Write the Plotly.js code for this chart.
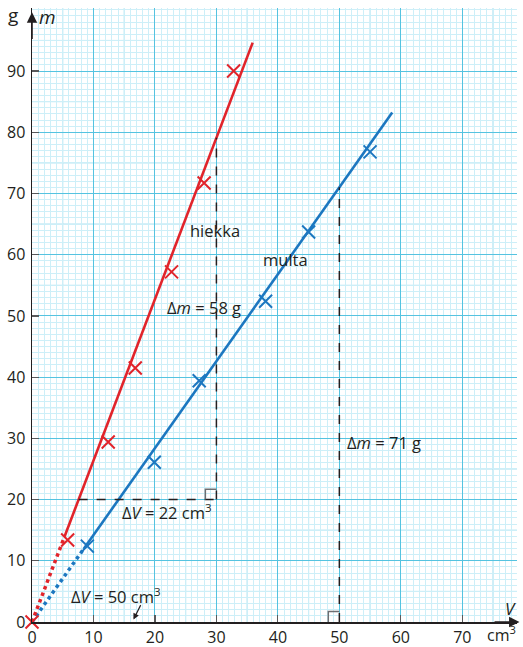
<!DOCTYPE html>
<html>
<head>
<meta charset="utf-8">
<script src="https://cdn.plot.ly/plotly-3.0.1.min.js"></script>
<style>html,body{margin:0;padding:0;background:#fff;}#chart{width:523px;height:647px;}</style>
</head>
<body>
<div id="chart"></div>
<script>
// Data
const hiekkaV = [0, 5.8, 12.4, 16.8, 22.7, 28.0, 32.8];
const hiekkaM = [0, 13.4, 29.4, 41.5, 57.2, 71.7, 90.0];
const multaV = [9.0, 19.9, 27.2, 38.0, 45.0, 55.0];
const multaM = [12.4, 26.1, 39.4, 52.4, 63.7, 76.8];
// Fit slopes from the triangle readings
const hiekkaDm = 58, hiekkaDv = 22;
const multaDm = 71, multaDv = 50;
// fitted line extents (V): [dotted start, solid start, end]
const hiekkaLineV = [0, 5.3, 35.9];
const multaLineV = [0, 8.4, 58.6];
const xTickVals = [0, 10, 20, 30, 40, 50, 60, 70];
const yTickVals = [0, 10, 20, 30, 40, 50, 60, 70, 80, 90];

const RED = '#e1242b', BLUE = '#1c77c0', INK = '#231f20';
const kH = hiekkaDm / hiekkaDv, kM = multaDm / multaDv;
const fH = v => kH * v, fM = v => kM * v;

const traces = [
  {x: [multaLineV[0], multaLineV[1]], y: [fM(multaLineV[0]), fM(multaLineV[1])], mode: 'lines',
   line: {color: BLUE, width: 3.5, dash: 'dot'}, cliponaxis: false, hoverinfo: 'skip'},
  {x: [multaLineV[1], multaLineV[2]], y: [fM(multaLineV[1]), fM(multaLineV[2])], mode: 'lines',
   line: {color: BLUE, width: 2.6}, hoverinfo: 'skip'},
  {x: multaV, y: multaM, mode: 'markers',
   marker: {symbol: 'x-thin', size: 13, line: {width: 2, color: BLUE}}},
  {x: [hiekkaLineV[0], hiekkaLineV[1]], y: [fH(hiekkaLineV[0]), fH(hiekkaLineV[1])], mode: 'lines',
   line: {color: RED, width: 3.5, dash: 'dot'}, cliponaxis: false, hoverinfo: 'skip'},
  {x: [hiekkaLineV[1], hiekkaLineV[2]], y: [fH(hiekkaLineV[1]), fH(hiekkaLineV[2])], mode: 'lines',
   line: {color: RED, width: 2.6}, hoverinfo: 'skip'},
  {x: hiekkaV, y: hiekkaM, mode: 'markers', cliponaxis: false,
   marker: {symbol: 'x-thin', size: 13, line: {width: 2, color: RED}}}
];

const shapes = [];
// 5-unit grid lines (mid level)
for (let v = 5; v < 80; v += 10) {
  shapes.push({type: 'line', xref: 'x', yref: 'paper', x0: v, x1: v, y0: 0, y1: 1,
    line: {color: '#9edcee', width: 1}, layer: 'between'});
}
for (let m = 5; m < 101; m += 10) {
  shapes.push({type: 'line', xref: 'paper', yref: 'y', x0: 0, x1: 1, y0: m, y1: m,
    line: {color: '#9edcee', width: 1}, layer: 'between'});
}
// Triangle guide for hiekka
const hY0 = 20, hX1 = 30;
shapes.push({type: 'line', x0: hY0 / kH, x1: hX1, y0: hY0, y1: hY0,
  line: {color: INK, width: 1.5, dash: 'dash'}});
shapes.push({type: 'line', x0: hX1, x1: hX1, y0: hY0, y1: fH(hX1),
  line: {color: INK, width: 1.5, dash: 'dash'}});
shapes.push({type: 'path', path: `M ${hX1 - 1.8} ${hY0} L ${hX1 - 1.8} ${hY0 + 1.7} L ${hX1} ${hY0 + 1.7}`,
  line: {color: '#6d6e71', width: 1.5}});
// Guide for multa
const mX1 = 50;
shapes.push({type: 'line', x0: mX1, x1: mX1, y0: 0, y1: fM(mX1),
  line: {color: INK, width: 1.5, dash: 'dash'}});
shapes.push({type: 'path', path: `M ${mX1 - 1.8} 0 L ${mX1 - 1.8} 1.7 L ${mX1} 1.7`,
  line: {color: '#6d6e71', width: 1.5}});

const FAM = 'Open Sans, Noto Sans, sans-serif';
const tf = {family: FAM, size: 16.5, color: INK};
const C = {xanchor: 'center', yanchor: 'middle', showarrow: false};
const annotations = [
  Object.assign({x: 29.8, y: 64.0, text: 'hiekka', font: tf}, C),
  Object.assign({x: 41.3, y: 59.2, text: 'multa', font: tf}, C),
  Object.assign({x: 27.9, y: 51.3, text: 'Δ<i>m</i> = 58 g', font: tf}, C),
  Object.assign({x: 21.9, y: 18.0, text: 'Δ<i>V</i> = 22 cm<sup>3</sup>', font: tf}, C),
  Object.assign({x: 57.3, y: 29.4, text: 'Δ<i>m</i> = 71 g', font: tf}, C),
  Object.assign({x: 13.6, y: 4.3, text: 'Δ<i>V</i> = 50 cm<sup>3</sup>', font: tf}, C),
  {x: 16.5, y: 0.4, ax: 17.8, ay: 3.0, axref: 'x', ayref: 'y', text: '', showarrow: true,
   arrowhead: 2, arrowsize: 1, arrowwidth: 1.2, arrowcolor: INK},
  // axis arrows
  {x: 0, y: 99.6, ax: 0, ay: 95, axref: 'x', ayref: 'y', text: '', showarrow: true,
   arrowhead: 2, arrowsize: 1.3, arrowwidth: 1.6, arrowcolor: INK},
  {x: 79.3, y: 0, ax: 75, ay: 0, axref: 'x', ayref: 'y', text: '', showarrow: true,
   arrowhead: 2, arrowsize: 1.3, arrowwidth: 1.6, arrowcolor: INK},
  // axis labels
  Object.assign({xref: 'paper', yref: 'paper', x: -0.040, y: 0.989, text: 'g',
   font: {family: FAM, size: 19, color: INK}}, C),
  Object.assign({xref: 'paper', yref: 'paper', x: 0.032, y: 0.986, text: '<i>m</i>',
   font: {family: FAM, size: 19, color: INK}}, C),
  Object.assign({xref: 'paper', yref: 'paper', x: 0.986, y: 0.022, text: '<i>V</i>',
   font: {family: FAM, size: 17, color: INK}}, C),
  Object.assign({xref: 'paper', yref: 'paper', x: 0.968, y: -0.019, text: 'cm<sup>3</sup>',
   font: {family: FAM, size: 16, color: INK}}, C)
];

const axisCommon = {
  showline: true, linecolor: INK, linewidth: 1.5,
  ticks: 'inside', ticklen: 7, tickwidth: 1.2, tickcolor: '#58595b',
  showgrid: true, gridcolor: '#55c3e0', gridwidth: 1,
  zeroline: false,
  tickfont: {family: FAM, size: 16, color: INK},
  fixedrange: true
};

const layout = {
  width: 523, height: 647,
  margin: {l: 31.5, r: 6, t: 8, b: 25},
  paper_bgcolor: '#ffffff', plot_bgcolor: '#ffffff',
  showlegend: false,
  xaxis: Object.assign({}, axisCommon, {range: [0, 78.9], tickvals: xTickVals, ticktext: xTickVals.map(String), ticklabelstandoff: 0,
    minor: {dtick: 1, tick0: 0, showgrid: true, gridcolor: '#cdeff8', gridwidth: 1, ticks: ''}}),
  yaxis: Object.assign({}, axisCommon, {range: [0, 100.3], tickvals: yTickVals, ticktext: yTickVals.map(String), ticklabelstandoff: 2,
    minor: {dtick: 1, tick0: 0, showgrid: true, gridcolor: '#cdeff8', gridwidth: 1, ticks: ''}}),
  shapes: shapes,
  annotations: annotations
};

Plotly.newPlot('chart', traces, layout, {displayModeBar: false, staticPlot: true});
</script>
</body>
</html>
